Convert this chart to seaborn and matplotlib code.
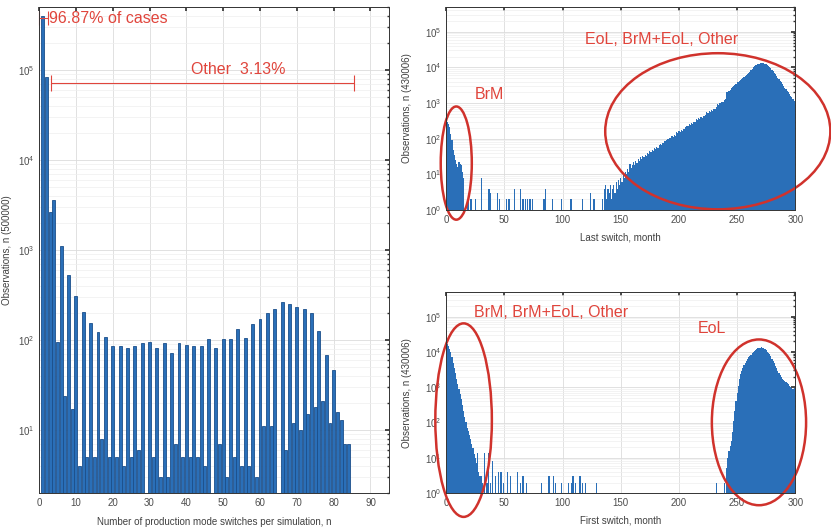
import numpy as np
import pandas as pd
import matplotlib.pyplot as plt
import seaborn as sns
from matplotlib.patches import Ellipse

# ---- left: number of switches per simulation (n = 1..84) ----
switch_n = list(range(1, 85))
switch_counts = [
    400000, 84000, 2640, 3590, 96, 1110, 24, 527, 17, 310,
    4, 207, 5, 153, 5, 124, 8, 109, 5, 86,
    5, 86, 4, 81, 5, 86, 6, 92, 0, 96,
    5, 81, 3, 94, 3, 71, 7, 94, 5, 89,
    5, 85, 5, 86, 4, 102, 0, 82, 7, 102,
    3, 102, 5, 132, 4, 106, 4, 151, 3, 171,
    11, 198, 11, 219, 0, 267, 6, 249, 12, 235,
    10, 219, 15, 198, 18, 125, 21, 69, 12, 47,
    16, 13, 7, 7,
]

# ---- top right: last switch month ----
last_early = [290, 260, 210, 140, 90, 50, 36, 25, 20, 16, 22, 20, 18, 12, 8]  # months 1-15
last_sparse = {18: 2, 19: 2, 21: 2, 22: 2, 25: 2, 30: 8, 36: 4, 37: 4, 38: 3,
               44: 3, 46: 2, 52: 2, 54: 2, 59: 4, 64: 4, 66: 2, 68: 2, 70: 2,
               72: 2, 74: 2, 84: 2, 85: 4, 91: 2, 99: 2, 107: 2, 108: 2,
               117: 2, 124: 3, 127: 2, 134: 2}
last_late_start = 136
last_late = [
    4, 5, 2, 4, 3, 5, 2, 4, 5, 3, 6, 4, 7, 5, 8,               # 136-150
    6, 10, 8, 12, 10, 14, 12, 20, 15, 18,                      # 151-160
    22, 18, 24, 21, 27, 24, 31, 27, 34, 30,                    # 161-170
    36, 33, 40, 37, 47, 42, 50, 46, 55, 52,                    # 171-180
    60, 56, 66, 72, 68, 78, 74, 85, 90, 100,                   # 181-190
    96, 108, 104, 118, 112, 128, 122, 155, 145, 165,           # 191-200
    158, 178, 170, 192, 185, 210, 235, 222, 255, 245,          # 201-210
    275, 265, 300, 290, 360, 340, 380, 365, 410, 395,          # 211-220
    440, 425, 480, 550, 520, 590, 570, 640, 620, 700,          # 221-230
    680, 780, 950, 900, 1000, 980, 1100, 1080, 1200, 1300,     # 231-240
    2000, 2100, 2250, 2400, 2600, 2850, 3100, 3300, 3550, 3800,
    4000, 4250, 4500, 4800, 5050, 5300, 5700, 6100, 6500, 6800,
    7600, 8400, 9200, 10000, 10800, 11500, 12000, 12500, 12800, 13000,
    13200, 13300, 13100, 12800, 12300, 11800, 11000, 10200, 9400, 8700,
    8000, 7200, 6500, 5800, 5200, 4700, 4300, 3800, 3400, 3000,
    2700, 2450, 2200, 2000, 1800, 1600, 1450, 1300, 1150, 1050,
]

# ---- bottom right: first switch month ----
first_early = [17000, 14800, 12000, 9800, 7200, 5000, 3500, 2500, 1740, 1260,
               890, 630, 460, 316, 209, 145, 102, 72, 56, 44,
               34, 25, 19, 13, 10, 7, 14, 4, 3, 3, 2]  # months 1-31
first_sparse = {33: 14, 35: 2, 36: 14, 38: 2, 40: 8, 42: 3, 45: 4, 47: 4,
                49: 2, 53: 4, 55: 3, 61: 4, 64: 2, 66: 3, 69: 2, 82: 2,
                88: 3, 89: 3, 92: 3, 94: 2, 99: 2, 105: 2, 108: 2, 109: 3,
                111: 2, 115: 3, 117: 2, 120: 2, 129: 2, 232: 2}
first_late_start = 239
first_late = [
    2, 0, 5, 10, 16, 22, 31, 55, 110, 217, 400, 700,                   # 239-250
    1100, 1700, 2300, 2900, 3600, 4200, 4900, 5600, 6300, 7000,        # 251-260
    7700, 8400, 9100, 9800, 10500, 11300, 12000, 12600, 13100, 13300,  # 261-270
    13400, 13300, 13000, 12300, 11200, 10300, 9400, 8600, 7600, 6500,  # 271-280
    5600, 4800, 4000, 3400, 2950, 2550, 2200, 1950, 1750, 1600,        # 281-290
    1480, 1380, 1300, 1200, 1100, 1020, 950, 890, 950, 1100,           # 291-300
]

BLUE = "#2a6fb8"
EDGE = "#1b4f8a"
RED = "#e0453c"
ELL = "#d0322c"


def month_table(early, sparse, late_start, late):
    counts = dict(zip(range(1, len(early) + 1), early))
    counts.update(sparse)
    counts.update(zip(range(late_start, late_start + len(late)), late))
    return pd.DataFrame({"month": list(counts.keys()), "n": list(counts.values())})


def style_axes(ax, xlim, xticks, ylim):
    ax.set_yscale("log")
    ax.set_xlim(*xlim)
    ax.set_ylim(*ylim)
    ax.set_xticks(xticks)
    ax.set_axisbelow(True)
    ax.grid(True, which="major", color="#dcdcdc", lw=0.6)
    ax.grid(True, which="minor", axis="y", color="#eeeeee", lw=0.5)
    ax.tick_params(which="both", direction="in", top=True, right=True,
                   labelsize=7, labelcolor="#4d4d4d", color="#333333")
    ax.tick_params(which="major", length=3)
    ax.tick_params(which="minor", length=1.5)
    for s in ax.spines.values():
        s.set_color("#333333")
        s.set_linewidth(0.7)


sns.set_theme(style="white")
plt.rcParams["font.family"] = ["Liberation Sans", "DejaVu Sans"]
plt.rcParams["mathtext.default"] = "regular"

fig = plt.figure(figsize=(8.31, 5.28), dpi=100)
ax_l = fig.add_axes([0.047, 0.066, 0.421, 0.921])
ax_t = fig.add_axes([0.537, 0.602, 0.420, 0.385])
ax_b = fig.add_axes([0.537, 0.066, 0.420, 0.381])

# left panel
sns.histplot(x=switch_n, weights=switch_counts, discrete=True, shrink=0.8,
             color=BLUE, edgecolor=EDGE, linewidth=0.6, alpha=1, ax=ax_l)
style_axes(ax_l, (0, 95), range(0, 91, 10), (2, 5e5))
ax_l.set_xlabel("Number of production mode switches per simulation, n",
                fontsize=7, color="#404040")
ax_l.set_ylabel("Observations, n (500000)", fontsize=7, color="#404040")
ax_l.yaxis.set_label_coords(-0.077, 0.5)
ax_l.xaxis.set_label_coords(0.5, -0.05)

ax_l.errorbar(x=1.25, y=3.73e5, xerr=1.25, fmt="none", ecolor=RED,
              elinewidth=0.8, capsize=4.7, capthick=0.8, clip_on=False)
ax_l.text(2.7, 3.73e5, "96.87% of cases", color=RED, fontsize=11.5,
          va="center", ha="left")
ax_l.errorbar(x=44.35, y=7.1e4, xerr=41.05, fmt="none", ecolor=RED,
              elinewidth=0.8, capsize=6, capthick=0.8)
ax_l.text(54.1, 1.0e5, "Other  3.13%", color=RED, fontsize=11.5,
          va="center", ha="center")

# top right panel
last_df = month_table(last_early, last_sparse, last_late_start, last_late)
sns.histplot(data=last_df, x="month", weights="n", discrete=True, shrink=1.0,
             color=BLUE, edgecolor=None, linewidth=0, alpha=1, ax=ax_t)
style_axes(ax_t, (0, 300), range(0, 301, 50), (1, 5e5))
ax_t.set_xlabel("Last switch, month", fontsize=7, color="#404040")
ax_t.set_ylabel("Observations, n (430006)", fontsize=7, color="#404040")
ax_t.yaxis.set_label_coords(-0.097, 0.5)
ax_t.xaxis.set_label_coords(0.5, -0.11)
ax_t.text(0.083, 0.571, "BrM", transform=ax_t.transAxes, color=RED,
          fontsize=11.5, va="center")
ax_t.text(0.398, 0.837, "EoL, BrM+EoL, Other", transform=ax_t.transAxes,
          color=RED, fontsize=11.5, va="center")
ax_t.add_patch(Ellipse((0.0287, 0.2315), 0.089, 0.557, transform=ax_t.transAxes,
                       fill=False, ec=ELL, lw=1.8, clip_on=False))
ax_t.add_patch(Ellipse((0.778, 0.388), 0.645, 0.768, transform=ax_t.transAxes,
                       fill=False, ec=ELL, lw=1.8, clip_on=False))

# bottom right panel
first_df = month_table(first_early, first_sparse, first_late_start, first_late)
sns.histplot(data=first_df, x="month", weights="n", discrete=True, shrink=1.0,
             color=BLUE, edgecolor=None, linewidth=0, alpha=1, ax=ax_b)
style_axes(ax_b, (0, 300), range(0, 301, 50), (1, 5e5))
ax_b.set_xlabel("First switch, month", fontsize=7, color="#404040")
ax_b.set_ylabel("Observations, n (430006)", fontsize=7, color="#404040")
ax_b.yaxis.set_label_coords(-0.097, 0.5)
ax_b.xaxis.set_label_coords(0.5, -0.11)
ax_b.text(0.080, 0.896, "BrM, BrM+EoL, Other", transform=ax_b.transAxes,
          color=RED, fontsize=11.5, va="center")
ax_b.text(0.721, 0.816, "EoL", transform=ax_b.transAxes, color=RED,
          fontsize=11.5, va="center")
ax_b.add_patch(Ellipse((0.0497, 0.363), 0.162, 0.962, transform=ax_b.transAxes,
                       fill=False, ec=ELL, lw=1.8, clip_on=False))
ax_b.add_patch(Ellipse((0.896, 0.352), 0.270, 0.824, transform=ax_b.transAxes,
                       fill=False, ec=ELL, lw=1.8, clip_on=False))

fig.savefig("out.png", dpi=100)
